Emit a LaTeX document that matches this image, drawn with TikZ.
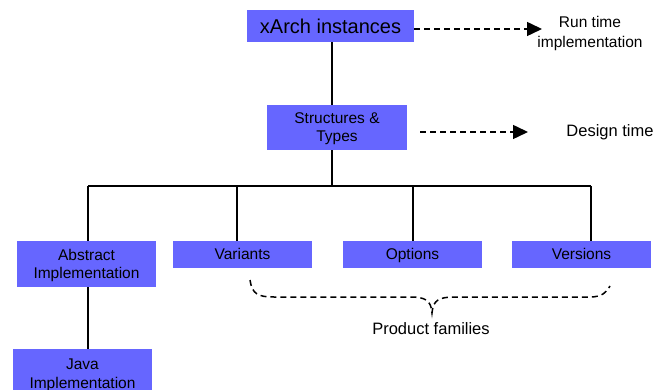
\documentclass[tikz,border=0pt]{standalone}
\usepackage{fontspec}
\setmainfont{Liberation Sans}
\usetikzlibrary{arrows.meta}
\definecolor{boxblue}{RGB}{102,102,255}
\tikzset{
  blockbox/.style={fill=boxblue, draw=none, inner sep=0pt, align=center,
    font=\fontsize{15.5}{18}\selectfont},
  onerow/.style={blockbox, minimum width=139pt, minimum height=27pt,
    text height=11.2pt, text depth=0.5pt},
  tree/.style={line width=1.6pt},
  dasharrow/.style={line width=1.5pt, dash pattern=on 6pt off 4pt,
    -{Triangle[length=15pt,width=14pt]}},
  bracepath/.style={line width=1.5pt, dash pattern=on 6pt off 4pt},
  note/.style={align=center, inner sep=0pt}
}
\begin{document}
\begin{tikzpicture}[x=1pt,y=-1pt]
\useasboundingbox (0,0) rectangle (669,390);
\clip (0,0) rectangle (669,390);

% boxes
\node[blockbox, minimum width=167pt, minimum height=32pt,
      font=\fontsize{20}{22}\selectfont] (xarch) at (330.5,26) {xArch instances};
\node[blockbox, minimum width=140pt, minimum height=45pt, text depth=0pt] (struct) at (337,127.5) {Structures \&\\Types};
\node[blockbox, minimum width=139pt, minimum height=46pt, text depth=0pt] (abs) at (86.5,264) {Abstract\\Implementation};
\node[onerow] (var) at (242.5,254.5) {Variants};
\node[onerow] (opt) at (412.5,254.5) {Options};
\node[onerow] (ver) at (581.5,254.5) {Versions};
\node[blockbox, minimum width=139pt, minimum height=52pt, anchor=north,
      font=\fontsize{15.5}{19.5}\selectfont] (java) at (82.5,349) {Java\\Implementation};

% side notes
\node[note, font=\fontsize{15.5}{20}\selectfont] (runtime) at (590,33) {Run time\\implementation};
\node[note, font=\fontsize{16.5}{20}\selectfont] (design) at (610,132) {Design time};
\node[note, font=\fontsize{16.5}{20}\selectfont] (family) at (431,329) {Product families};

% trunk and branches
\coordinate (bar) at (332,186);
\coordinate (dabs) at (88,186);
\coordinate (dvar) at (237,186);
\coordinate (dopt) at (413,186);
\coordinate (dver) at (591,186);
\draw[tree] (bar |- xarch.south) -- (bar |- struct.north);
\draw[tree] (bar |- struct.south) -- (bar);
\draw[tree] (dabs) -- (dver);
\draw[tree] (dabs) -- (dabs |- abs.north);
\draw[tree] (dvar) -- (dvar |- var.north);
\draw[tree] (dopt) -- (dopt |- opt.north);
\draw[tree] (dver) -- (dver |- ver.north);
\draw[tree] (dabs |- abs.south) -- (dabs |- java.north);

% dashed arrows to the notes
\coordinate (rtip) at (542,29);
\coordinate (dtip) at (528,132);
\draw[dasharrow] (xarch.east |- rtip) -- (rtip);
\draw[dasharrow] ([xshift=13pt]struct.east |- dtip) -- (dtip);

% dashed brace over the variability nodes
\coordinate (bl) at (250,280);
\coordinate (bm) at (432,313);
\coordinate (br) at (610,286);
\draw[bracepath] (bl) .. controls (252,294) and (258,297) .. (274,297)
  -- (410,297) .. controls (425,297) and (431,300) .. (bm)
  .. controls (433,300) and (439,297) .. (455,297)
  -- (590,297) .. controls (602,297) and (607,292) .. (br);
\end{tikzpicture}
\end{document}
